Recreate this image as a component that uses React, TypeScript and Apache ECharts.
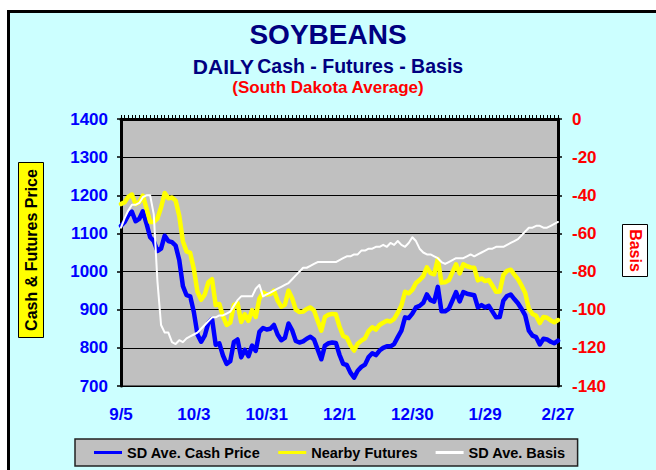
import React, { useEffect, useRef } from "react";
import * as echarts from "echarts";

const tickLabels = ["9/5", "10/3", "10/31", "12/1", "12/30", "1/29", "2/27"];

const cashPrice = [
  1120, 1130, 1148, 1157, 1132, 1138, 1158, 1126, 1090, 1080,
  1054, 1060, 1094, 1080, 1077, 1068, 1030, 962, 938, 935,
  894, 835, 816, 832, 866, 876, 808, 812, 780, 758,
  765, 815, 822, 775, 795, 778, 806, 792, 842, 852,
  848, 850, 860, 835, 820, 826, 864, 846, 818, 814,
  817, 824, 829, 822, 796, 770, 806, 812, 814, 813,
  782, 758, 755, 735, 722, 740, 750, 756, 776, 786,
  781, 793, 800, 804, 804, 810, 828, 845, 880, 878,
  890, 906, 910, 918, 940, 925, 921, 960, 896, 896,
  902, 924, 946, 922, 946, 942, 940, 938, 906, 912,
  906, 910, 895, 880, 881, 924, 936, 940, 928, 917,
  902, 885, 845, 832, 828, 809, 824, 822, 816, 812,
  819,
];

const nearbyFutures = [
  1177, 1182, 1196, 1202, 1177, 1182, 1199, 1166, 1130, 1130,
  1139, 1168, 1206, 1192, 1194, 1186, 1146, 1079, 1053, 1049,
  1007, 947, 926, 940, 972, 980, 912, 915, 883, 860,
  866, 913, 917, 868, 888, 871, 899, 881, 929, 945,
  940, 941, 950, 924, 908, 913, 950, 930, 900, 894,
  895, 902, 906, 898, 871, 845, 881, 887, 889, 888,
  856, 831, 827, 807, 793, 811, 819, 825, 844, 854,
  848, 860, 866, 871, 869, 876, 892, 911, 947, 943,
  952, 970, 978, 988, 1011, 996, 993, 1033, 971, 972,
  977, 998, 1019, 995, 1019, 1014, 1011, 1010, 977, 982,
  975, 978, 963, 947, 948, 991, 1002, 1005, 992, 980,
  963, 944, 902, 889, 884, 865, 881, 879, 872, 867,
  873,
];

const basis = [
  -57, -52, -48, -45, -45, -44, -41, -40, -40, -50,
  -85, -108, -112, -112, -117, -118, -116, -117, -115, -114,
  -113, -112, -110, -108, -106, -104, -104, -103, -103, -102,
  -101, -98, -95, -93, -93, -93, -93, -89, -87, -93,
  -92, -91, -90, -89, -88, -87, -86, -84, -82, -80,
  -78, -78, -77, -76, -75, -75, -75, -75, -75, -75,
  -74, -73, -72, -72, -71, -71, -69, -69, -68, -68,
  -67, -67, -66, -67, -65, -66, -64, -66, -67, -65,
  -62, -64, -68, -70, -71, -71, -72, -73, -75, -76,
  -75, -74, -73, -73, -73, -72, -71, -72, -71, -70,
  -69, -68, -68, -67, -67, -67, -66, -65, -64, -63,
  -61, -59, -57, -57, -56, -56, -57, -57, -56, -55,
  -54,
];

const seriesNames = ["SD Ave. Cash Price", "Nearby Futures", "SD Ave. Basis"];
const FONT = "'Liberation Sans', Arial, sans-serif";

export default function App() {
  const ref = useRef<HTMLDivElement>(null);

  useEffect(() => {
    if (!ref.current) return;
    const chart = echarts.init(ref.current, undefined, { renderer: "svg" });
    const categories = cashPrice.map((_, i) => String(i));
    const labelStep = (categories.length - 1) / (tickLabels.length - 1);

    chart.setOption({
      animation: false,
      backgroundColor: "#CCFFFF",
      textStyle: { fontFamily: FONT },
      grid: {
        left: 121,
        right: 98,
        top: 119,
        bottom: 84,
        show: true,
        backgroundColor: "#C0C0C0",
        borderColor: "#000",
        borderWidth: 1,
      },
      xAxis: {
        type: "category",
        data: categories,
        boundaryGap: false,
        axisLine: { lineStyle: { color: "#000", width: 3 } },
        axisTick: { inside: true, length: 4, interval: 0, lineStyle: { color: "#000", width: 1 } },
        axisLabel: {
          interval: labelStep - 1,
          showMaxLabel: true,
          showMinLabel: true,
          formatter: (_v: string, idx: number) => tickLabels[Math.round(idx / labelStep)] ?? "",
          color: "#0000FF",
          fontWeight: "bold",
          fontSize: 17,
          fontFamily: FONT,
          margin: 20,
        },
        splitLine: { show: false },
      },
      yAxis: [
        {
          type: "value",
          min: 700,
          max: 1400,
          interval: 100,
          position: "left",
          axisLine: { show: true, lineStyle: { color: "#000", width: 3 } },
          axisTick: { show: true, length: 4, lineStyle: { color: "#000", width: 1.5 } },
          axisLabel: {
            color: "#0000FF",
            fontWeight: "bold",
            fontSize: 17,
            fontFamily: FONT,
            margin: 13,
            formatter: (v: number) => String(v),
          },
          splitLine: { show: true, lineStyle: { color: "#000", width: 1 } },
        },
        {
          type: "value",
          min: -140,
          max: 0,
          interval: 20,
          position: "right",
          axisLine: { show: true, lineStyle: { color: "#000", width: 3 } },
          axisTick: { show: true, length: 4, lineStyle: { color: "#000", width: 1.5 } },
          axisLabel: {
            color: "#FF0000",
            fontWeight: "bold",
            fontSize: 17,
            fontFamily: FONT,
            margin: 14,
            formatter: (v: number) => String(v),
          },
          splitLine: { show: false },
        },
      ],
      legend: {
        left: 75,
        top: 439,
        orient: "horizontal",
        backgroundColor: "#C0C0C0",
        borderColor: "#222",
        borderWidth: 1.5,
        padding: [6, 12, 6, 19],
        itemGap: 18,
        itemWidth: 28,
        itemHeight: 3,
        icon: "rect",
        textStyle: { color: "#000", fontSize: 14.5, fontWeight: "bold", fontFamily: FONT },
        data: seriesNames,
      },
      series: [
        {
          name: seriesNames[0],
          type: "line",
          data: cashPrice,
          yAxisIndex: 0,
          showSymbol: false,
          color: "#0000FF",
          lineStyle: { color: "#0000FF", width: 4.5, join: "round", cap: "round" },
          z: 3,
        },
        {
          name: seriesNames[1],
          type: "line",
          data: nearbyFutures,
          yAxisIndex: 0,
          showSymbol: false,
          color: "#FFFF00",
          lineStyle: { color: "#FFFF00", width: 4.5, join: "round", cap: "round" },
          z: 3,
        },
        {
          name: seriesNames[2],
          type: "line",
          data: basis,
          yAxisIndex: 1,
          showSymbol: false,
          color: "#FFFFFF",
          lineStyle: { color: "#FFFFFF", width: 2, join: "round", cap: "round" },
          z: 4,
        },
      ],
      graphic: [
        { type: "rect", shape: { x: 0, y: 0, width: 656, height: 10 }, style: { fill: "#FFFFFF" }, silent: true },
        { type: "rect", shape: { x: 0, y: 0, width: 7, height: 470 }, style: { fill: "#FFFFFF" }, silent: true },
        {
          type: "polyline",
          shape: { points: [[8.5, 472], [8.5, 11.5], [660, 11.5]] },
          style: { stroke: "#000", lineWidth: 3, fill: "none" },
          silent: true,
        },
        {
          type: "text",
          x: 328,
          y: 34,
          style: {
            text: "SOYBEANS",
            fill: "#000080",
            fontSize: 28,
            fontWeight: "bold",
            fontFamily: FONT,
            textAlign: "center",
            textVerticalAlign: "middle",
          },
        },
        {
          type: "text",
          x: 328,
          y: 66,
          style: {
            text: "{a|DAILY} {b|Cash - Futures - Basis}",
            rich: {
              a: { fill: "#000080", fontSize: 21, fontWeight: "bold", fontFamily: FONT },
              b: { fill: "#000080", fontSize: 19.5, fontWeight: "bold", fontFamily: FONT },
            },
            textAlign: "center",
            textVerticalAlign: "middle",
          },
        },
        {
          type: "text",
          x: 328,
          y: 87,
          style: {
            text: "(South Dakota Average)",
            fill: "#FF0000",
            fontSize: 17,
            fontWeight: "bold",
            fontFamily: FONT,
            textAlign: "center",
            textVerticalAlign: "middle",
          },
        },
        {
          type: "rect",
          shape: { x: 18.5, y: 162.5, width: 25, height: 175 },
          style: { fill: "#FFFF00", stroke: "#000", lineWidth: 1 },
        },
        {
          type: "text",
          x: 31,
          y: 250,
          rotation: Math.PI / 2,
          style: {
            text: "Cash & Futures Price",
            fill: "#000",
            fontSize: 16,
            fontWeight: "bold",
            fontFamily: FONT,
            textAlign: "center",
            textVerticalAlign: "middle",
          },
        },
        {
          type: "rect",
          shape: { x: 622.5, y: 224.5, width: 25, height: 52 },
          style: { fill: "#FFFFFF", stroke: "#000", lineWidth: 1 },
        },
        {
          type: "text",
          x: 635,
          y: 250.5,
          rotation: -Math.PI / 2,
          style: {
            text: "Basis",
            fill: "#FF0000",
            fontSize: 16,
            fontWeight: "bold",
            fontFamily: FONT,
            textAlign: "center",
            textVerticalAlign: "middle",
          },
        },
      ],
    });

    return () => chart.dispose();
  }, []);

  return (
    <div
      ref={ref}
      style={{ position: "absolute", left: 0, top: 0, width: 656, height: 470 }}
    />
  );
}
